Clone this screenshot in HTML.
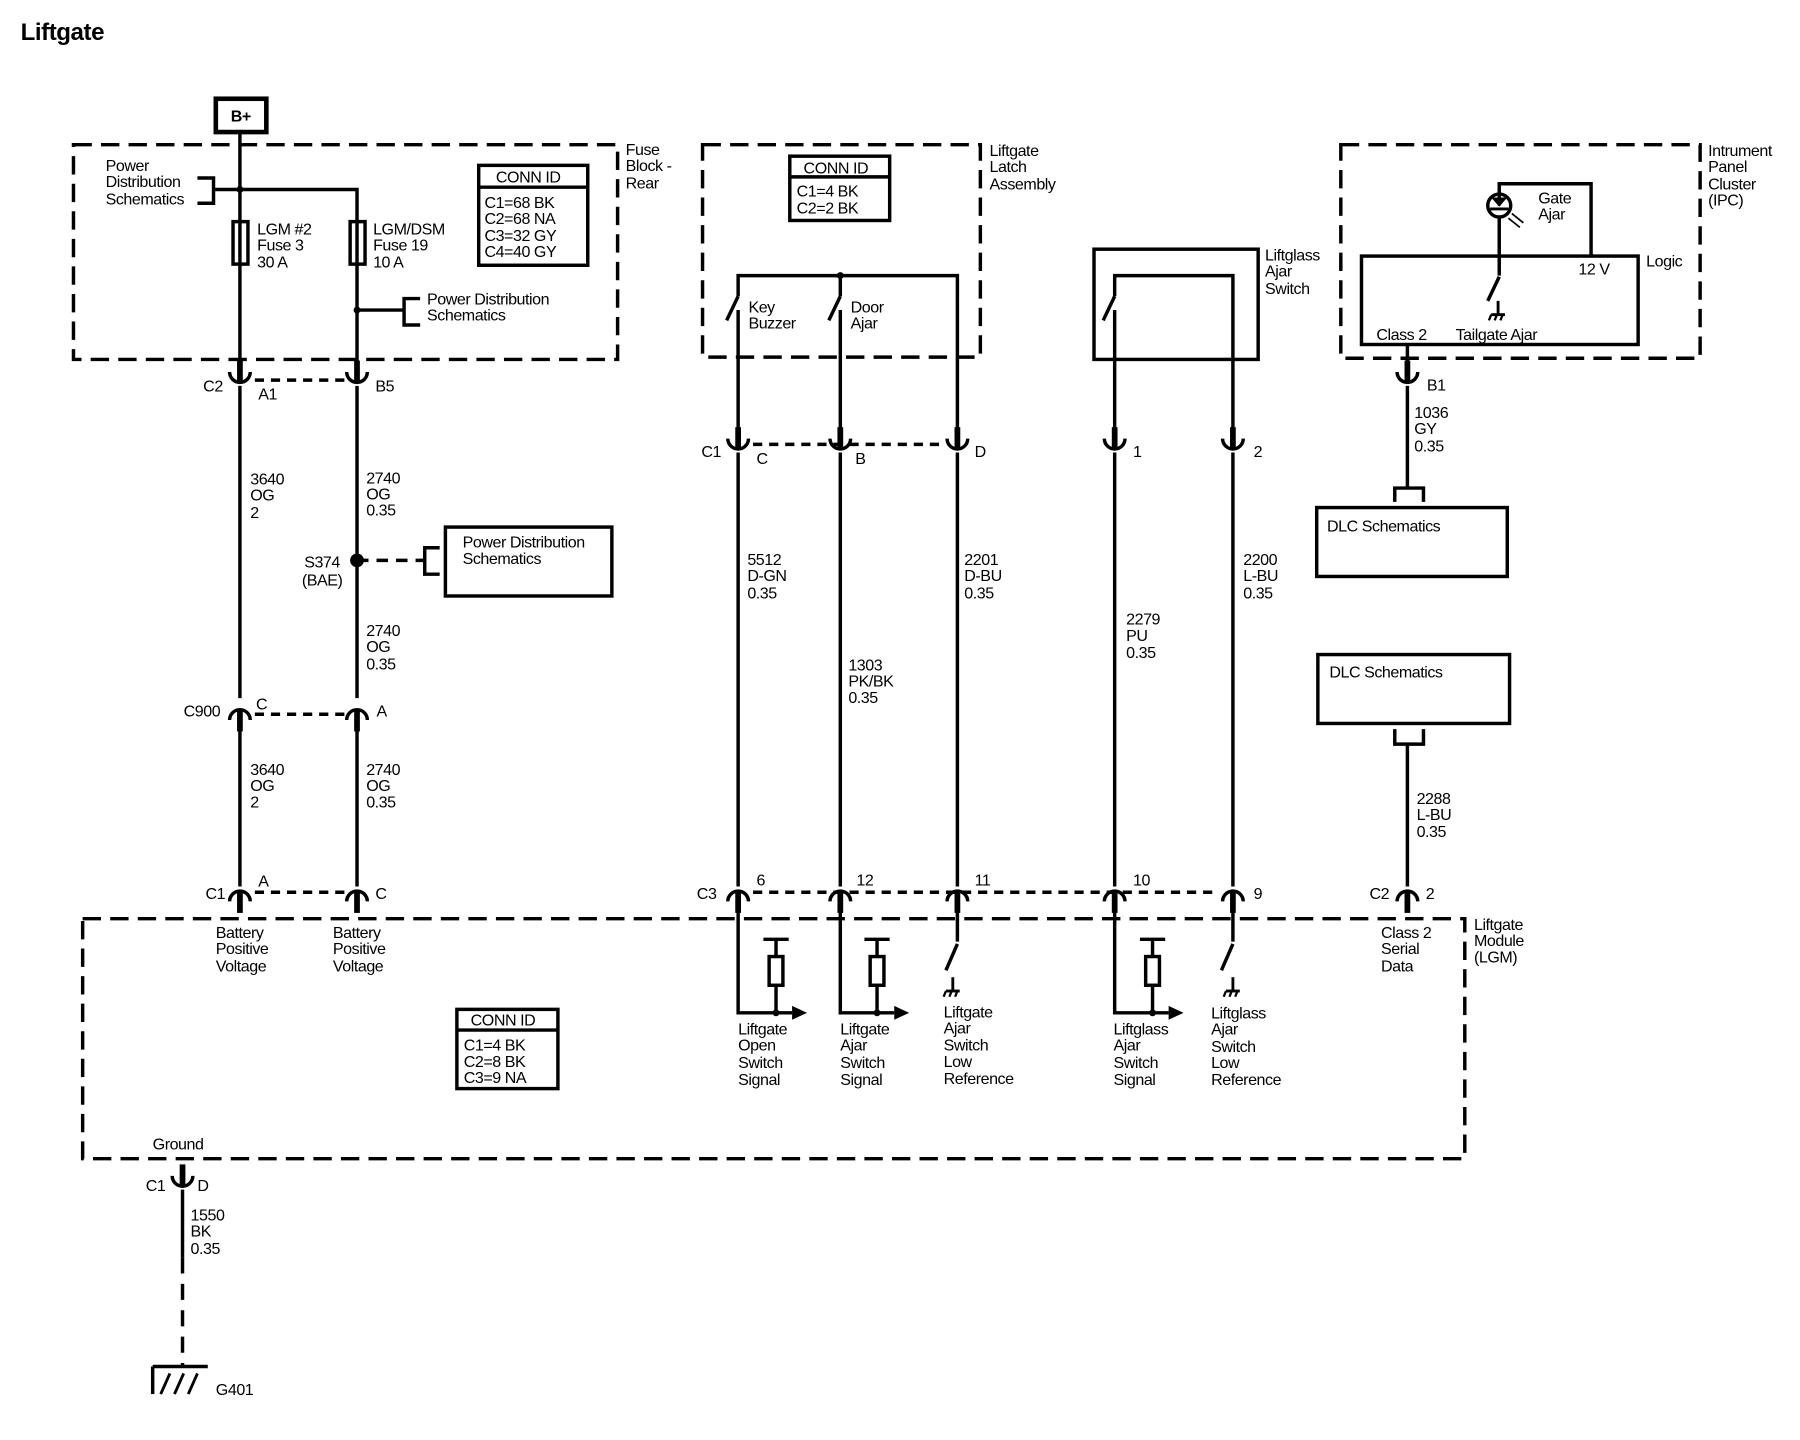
<!DOCTYPE html>
<html><head><meta charset="utf-8"><style>
html,body{margin:0;padding:0;background:#fff;}
svg{display:block;}
text{font-family:"Liberation Sans",sans-serif;font-size:14px;fill:#000;letter-spacing:-0.4px;}
.b{font-weight:bold;}
</style></head><body>
<svg width="1800" height="1440" viewBox="0 0 1568 1254" preserveAspectRatio="none" xmlns="http://www.w3.org/2000/svg">
<defs>
<g id="cu"><line x1="0" y1="-16" x2="0" y2="3" stroke="#000" stroke-width="5"/><path d="M-9,-6 A9,9 0 0 0 9,-6" fill="none" stroke="#000" stroke-width="3"/></g>
<g id="cd"><line x1="0" y1="16" x2="0" y2="-3" stroke="#000" stroke-width="5"/><path d="M-9,6 A9,9 0 0 1 9,6" fill="none" stroke="#000" stroke-width="3"/></g>
<g id="res"><line x1="-11" y1="0" x2="11" y2="0" stroke="#000" stroke-width="3"/><line x1="0" y1="0" x2="0" y2="64" stroke="#000" stroke-width="3"/><rect x="-6" y="15" width="12" height="25" fill="#fff" stroke="#000" stroke-width="3"/></g>
<g id="gnd"><line x1="0" y1="0" x2="0" y2="12" stroke="#000" stroke-width="2.5"/><line x1="-6" y1="12" x2="6" y2="12" stroke="#000" stroke-width="2.5"/><path d="M-6,12 l-2,5 M-1,12 l-2,5 M4,12 l-2,5" stroke="#000" stroke-width="2"/></g>
</defs>
<g fill="none" stroke="#000" stroke-width="3">
<rect x="64" y="126" width="474" height="187" stroke-dasharray="16,8"/>
<rect x="612" y="126" width="242" height="185" stroke-dasharray="16,8"/>
<rect x="1168" y="126" width="313" height="186" stroke-dasharray="16,8"/>
<rect x="72" y="800" width="1204" height="209" stroke-dasharray="16,8"/>
<rect x="188" y="86" width="44" height="29" stroke-width="4"/>
<line x1="209" y1="115" x2="209" y2="316"/>
<polyline points="209,165 311,165 311,316"/>
<polyline points="172,155 186,155 186,177 172,177"/>
<line x1="186" y1="165" x2="209" y2="165"/>
<rect x="203" y="193" width="13" height="37"/>
<rect x="305" y="193" width="13" height="37"/>
<line x1="311" y1="270" x2="352" y2="270"/>
<polyline points="366,260 352,260 352,283 366,283"/>
<rect x="417" y="144" width="95" height="87"/>
<line x1="417" y1="163" x2="512" y2="163"/>
<line x1="222" y1="331" x2="300" y2="331" stroke-dasharray="8,6"/>
<line x1="209" y1="336" x2="209" y2="608"/>
<line x1="311" y1="336" x2="311" y2="608"/>
<line x1="311" y1="488" x2="370" y2="488" stroke-dasharray="10,7"/>
<polyline points="383,477 370,477 370,500 383,500"/>
<rect x="388" y="459" width="145" height="60"/>
<line x1="222" y1="622" x2="300" y2="622" stroke-dasharray="8,6"/>
<line x1="209" y1="632" x2="209" y2="772"/>
<line x1="311" y1="632" x2="311" y2="772"/>
<line x1="222" y1="777" x2="300" y2="777" stroke-dasharray="8,6"/>
<rect x="398" y="879" width="88" height="69"/>
<line x1="398" y1="897" x2="486" y2="897"/>
<line x1="159" y1="1036" x2="159" y2="1095"/>
<line x1="159" y1="1095" x2="159" y2="1190" stroke-dasharray="14,9"/>
<line x1="133" y1="1190" x2="181" y2="1190"/>
<line x1="133" y1="1190" x2="133" y2="1214"/>
<path d="M140,1214 l8,-18 M152,1214 l8,-18 M164,1214 l8,-18" stroke-width="2.5"/>
<rect x="688" y="136" width="87" height="56"/>
<line x1="688" y1="154" x2="775" y2="154"/>
<polyline points="643,258 643,240 834,240 834,382"/>
<line x1="732" y1="240" x2="732" y2="258"/>
<line x1="633" y1="279" x2="643" y2="258"/>
<line x1="722" y1="279" x2="732" y2="258"/>
<line x1="643" y1="270" x2="643" y2="382"/>
<line x1="732" y1="270" x2="732" y2="382"/>
<line x1="656" y1="387" x2="822" y2="387" stroke-dasharray="8,6"/>
<line x1="643" y1="394" x2="643" y2="772"/>
<line x1="732" y1="394" x2="732" y2="772"/>
<line x1="834" y1="394" x2="834" y2="772"/>
<rect x="953" y="217" width="143" height="96"/>
<polyline points="971,258 971,240 1074,240 1074,382"/>
<line x1="961" y1="279" x2="971" y2="258"/>
<line x1="971" y1="270" x2="971" y2="382"/>
<line x1="971" y1="394" x2="971" y2="772"/>
<line x1="1074" y1="394" x2="1074" y2="772"/>
<line x1="656" y1="777" x2="1062" y2="777" stroke-dasharray="8,6"/>
<polyline points="643,790 643,882 690,882"/>
<polyline points="732,790 732,882 779,882"/>
<polyline points="971,790 971,882 1018,882"/>
<line x1="834" y1="790" x2="834" y2="820"/>
<line x1="824" y1="845" x2="834" y2="822"/>
<line x1="1074" y1="790" x2="1074" y2="820"/>
<line x1="1064" y1="845" x2="1074" y2="822"/>
<rect x="1186" y="223" width="241" height="77"/>
<polyline points="1306,179 1306,160 1386,160 1386,223"/>
<circle cx="1306" cy="179" r="10"/>
<line x1="1306" y1="189" x2="1306" y2="240"/>
<line x1="1296" y1="262" x2="1306" y2="241"/>
<line x1="1226" y1="300" x2="1226" y2="318"/>
<line x1="1226" y1="336" x2="1226" y2="425"/>
<polyline points="1215,437 1215,425 1240,425 1240,437"/>
<rect x="1147" y="442" width="166" height="60"/>
<rect x="1148" y="570" width="167" height="60"/>
<polyline points="1215,635 1215,648 1240,648 1240,635"/>
<line x1="1226" y1="648" x2="1226" y2="772"/>
</g>
<path d="M1299,172 L1313,172 L1306,180 Z" fill="#000"/>
<line x1="1298" y1="182" x2="1314" y2="182" stroke="#000" stroke-width="2.5"/>
<path d="M1317,186 l10,8 M1314,190 l10,8" stroke="#000" stroke-width="1.5"/>
<path d="M690,876 L703,882 L690,888 Z M779,876 L792,882 L779,888 Z M1018,876 L1031,882 L1018,888 Z" fill="#000"/>
<circle cx="676" cy="882" r="3"/><circle cx="764" cy="882" r="3"/><circle cx="1004" cy="882" r="3"/>
<use href="#res" x="676" y="818"/><use href="#res" x="764" y="818"/><use href="#res" x="1004" y="818"/>
<use href="#gnd" x="830" y="851"/><use href="#gnd" x="1074" y="851"/><use href="#gnd" x="1305" y="262"/>
<circle cx="209" cy="165" r="3"/><circle cx="311" cy="270" r="3"/><circle cx="732" cy="240" r="3"/>
<circle cx="311" cy="488" r="6"/>
<use href="#cu" x="209" y="330"/><use href="#cu" x="311" y="330"/>
<use href="#cd" x="209" y="621"/><use href="#cd" x="311" y="621"/>
<use href="#cd" x="209" y="779"/><use href="#cd" x="311" y="779"/>
<use href="#cu" x="643" y="388"/><use href="#cu" x="732" y="388"/><use href="#cu" x="834" y="388"/>
<use href="#cu" x="971" y="388"/><use href="#cu" x="1074" y="388"/>
<use href="#cd" x="643" y="779"/><use href="#cd" x="732" y="779"/><use href="#cd" x="834" y="779"/>
<use href="#cd" x="971" y="779"/><use href="#cd" x="1074" y="779"/><use href="#cd" x="1226" y="779"/>
<use href="#cu" x="1226" y="330"/><use href="#cu" x="159" y="1030"/>
<text x="18" y="35" class="b" style="font-size:21px">Liftgate</text>
<text x="201" y="106" class="b" style="font-size:14px">B+</text>
<text x="92" y="149">Power</text><text x="92" y="163">Distribution</text><text x="92" y="178">Schematics</text>
<text x="224" y="204">LGM #2</text><text x="224" y="218">Fuse 3</text><text x="224" y="233">30 A</text>
<text x="325" y="204">LGM/DSM</text><text x="325" y="218">Fuse 19</text><text x="325" y="233">10 A</text>
<text x="372" y="265">Power Distribution</text><text x="372" y="279">Schematics</text>
<text x="432" y="159">CONN ID</text>
<text x="422" y="181">C1=68 BK</text><text x="422" y="195">C2=68 NA</text><text x="422" y="210">C3=32 GY</text><text x="422" y="224">C4=40 GY</text>
<text x="545" y="135">Fuse</text><text x="545" y="149">Block -</text><text x="545" y="164">Rear</text>
<text x="177" y="341">C2</text><text x="225" y="348">A1</text><text x="327" y="341">B5</text>
<text x="218" y="422">3640</text><text x="218" y="436">OG</text><text x="218" y="451">2</text>
<text x="319" y="421">2740</text><text x="319" y="435">OG</text><text x="319" y="449">0.35</text>
<text x="265" y="494">S374</text><text x="263" y="510">(BAE)</text>
<text x="403" y="477">Power Distribution</text><text x="403" y="491">Schematics</text>
<text x="319" y="554">2740</text><text x="319" y="568">OG</text><text x="319" y="583">0.35</text>
<text x="160" y="624">C900</text><text x="223" y="618">C</text><text x="328" y="624">A</text>
<text x="218" y="675">3640</text><text x="218" y="689">OG</text><text x="218" y="703">2</text>
<text x="319" y="675">2740</text><text x="319" y="689">OG</text><text x="319" y="703">0.35</text>
<text x="179" y="783">C1</text><text x="225" y="772">A</text><text x="327" y="783">C</text>
<text x="188" y="817">Battery</text><text x="188" y="831">Positive</text><text x="188" y="846">Voltage</text>
<text x="290" y="817">Battery</text><text x="290" y="831">Positive</text><text x="290" y="846">Voltage</text>
<text x="410" y="893">CONN ID</text>
<text x="404" y="915">C1=4 BK</text><text x="404" y="929">C2=8 BK</text><text x="404" y="943">C3=9 NA</text>
<text x="133" y="1001">Ground</text>
<text x="127" y="1037">C1</text><text x="172" y="1037">D</text>
<text x="166" y="1063">1550</text><text x="166" y="1077">BK</text><text x="166" y="1092">0.35</text>
<text x="188" y="1215">G401</text>
<text x="862" y="136">Liftgate</text><text x="862" y="150">Latch</text><text x="862" y="165">Assembly</text>
<text x="700" y="151">CONN ID</text>
<text x="694" y="171">C1=4 BK</text><text x="694" y="186">C2=2 BK</text>
<text x="652" y="272">Key</text><text x="652" y="286">Buzzer</text>
<text x="741" y="272">Door</text><text x="741" y="286">Ajar</text>
<text x="611" y="398">C1</text><text x="659" y="404">C</text><text x="745" y="404">B</text><text x="849" y="398">D</text>
<text x="651" y="492">5512</text><text x="651" y="506">D-GN</text><text x="651" y="521">0.35</text>
<text x="739" y="584">1303</text><text x="739" y="598">PK/BK</text><text x="739" y="612">0.35</text>
<text x="840" y="492">2201</text><text x="840" y="506">D-BU</text><text x="840" y="521">0.35</text>
<text x="1102" y="227">Liftglass</text><text x="1102" y="241">Ajar</text><text x="1102" y="256">Switch</text>
<text x="987" y="398">1</text><text x="1092" y="398">2</text>
<text x="981" y="544">2279</text><text x="981" y="558">PU</text><text x="981" y="573">0.35</text>
<text x="1083" y="492">2200</text><text x="1083" y="506">L-BU</text><text x="1083" y="521">0.35</text>
<text x="607" y="783">C3</text><text x="659" y="771">6</text><text x="746" y="771">12</text><text x="849" y="771">11</text><text x="987" y="771">10</text><text x="1092" y="783">9</text>
<text x="643" y="901">Liftgate</text><text x="643" y="915">Open</text><text x="643" y="930">Switch</text><text x="643" y="945">Signal</text>
<text x="732" y="901">Liftgate</text><text x="732" y="915">Ajar</text><text x="732" y="930">Switch</text><text x="732" y="945">Signal</text>
<text x="822" y="886">Liftgate</text><text x="822" y="900">Ajar</text><text x="822" y="915">Switch</text><text x="822" y="929">Low</text><text x="822" y="944">Reference</text>
<text x="970" y="901">Liftglass</text><text x="970" y="915">Ajar</text><text x="970" y="930">Switch</text><text x="970" y="945">Signal</text>
<text x="1055" y="887">Liftglass</text><text x="1055" y="901">Ajar</text><text x="1055" y="916">Switch</text><text x="1055" y="930">Low</text><text x="1055" y="945">Reference</text>
<text x="1488" y="136">Intrument</text><text x="1488" y="150">Panel</text><text x="1488" y="165">Cluster</text><text x="1488" y="179">(IPC)</text>
<text x="1340" y="177">Gate</text><text x="1340" y="191">Ajar</text>
<text x="1434" y="232">Logic</text><text x="1375" y="239">12 V</text>
<text x="1199" y="296">Class 2</text><text x="1268" y="296">Tailgate Ajar</text>
<text x="1243" y="340">B1</text>
<text x="1232" y="364">1036</text><text x="1232" y="378">GY</text><text x="1232" y="393">0.35</text>
<text x="1156" y="463">DLC Schematics</text><text x="1158" y="590">DLC Schematics</text>
<text x="1234" y="700">2288</text><text x="1234" y="714">L-BU</text><text x="1234" y="729">0.35</text>
<text x="1193" y="783">C2</text><text x="1242" y="783">2</text>
<text x="1203" y="817">Class 2</text><text x="1203" y="831">Serial</text><text x="1203" y="846">Data</text>
<text x="1284" y="810">Liftgate</text><text x="1284" y="824">Module</text><text x="1284" y="838">(LGM)</text>
</svg>
</body></html>
